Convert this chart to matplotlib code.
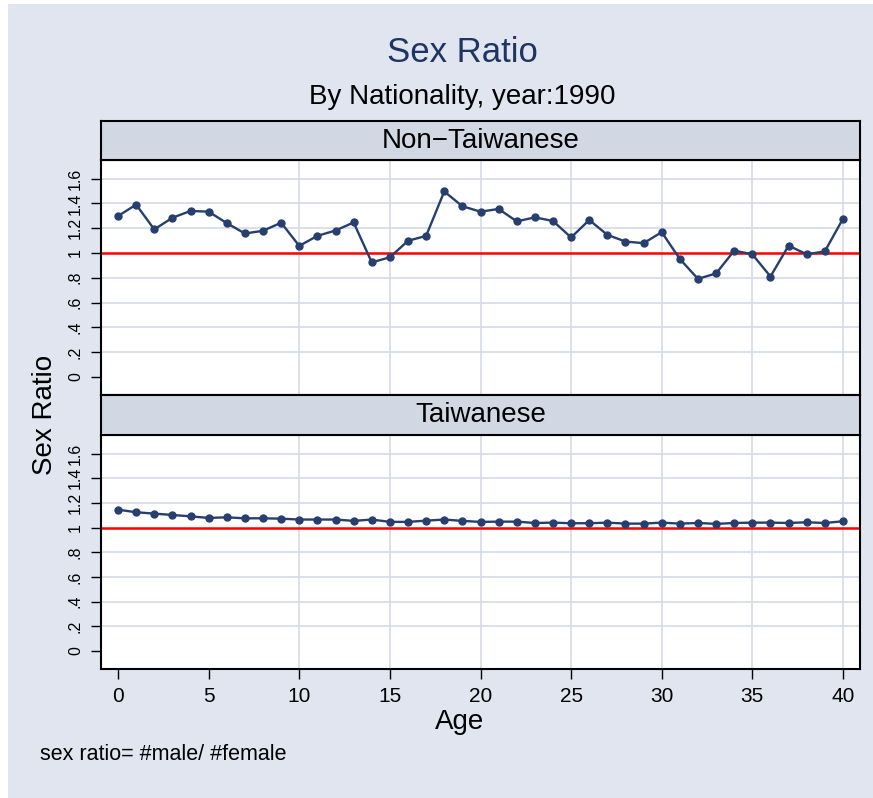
import numpy as np
import matplotlib
matplotlib.use("Agg")
import matplotlib.pyplot as plt
from matplotlib.patches import Rectangle

plt.rcParams['font.family'] = ['Liberation Sans', 'DejaVu Sans']

# data
age = list(range(41))
non_taiwanese = [1.298, 1.39, 1.19, 1.284, 1.339, 1.333, 1.241, 1.157, 1.179, 1.244,
                 1.057, 1.138, 1.181, 1.246, 0.924, 0.965, 1.098, 1.138, 1.496, 1.377,
                 1.333, 1.355, 1.255, 1.287, 1.258, 1.125, 1.266, 1.146, 1.092, 1.079,
                 1.168, 0.951, 0.791, 0.835, 1.019, 0.989, 0.81, 1.059, 0.989, 1.013,
                 1.276]
taiwanese = [1.145, 1.124, 1.113, 1.102, 1.091, 1.078, 1.083, 1.075, 1.075, 1.072,
             1.065, 1.065, 1.065, 1.054, 1.065, 1.046, 1.046, 1.056, 1.065, 1.054,
             1.046, 1.048, 1.048, 1.037, 1.04, 1.035, 1.035, 1.04, 1.032, 1.032,
             1.04, 1.032, 1.037, 1.03, 1.037, 1.04, 1.04, 1.037, 1.043, 1.037,
             1.051]
panels = ["Non\u2212Taiwanese", "Taiwanese"]
yticks = [0, 0.2, 0.4, 0.6, 0.8, 1, 1.2, 1.4, 1.6]
ytick_labels = ["0", ".2", ".4", ".6", ".8", "1", "1.2", "1.4", "1.6"]
xticks = [0, 5, 10, 15, 20, 25, 30, 35, 40]

W, H = 873, 798
bg = "#E0E5F0"
strip_col = "#D2D8E3"
navy = "#263F6E"
grid_col = "#D5DAE6"

fig = plt.figure(figsize=(W / 100, H / 100), dpi=100, facecolor="white")
fig.patches.append(Rectangle((8 / W, 0), 1 - 8 / W, 1 - 4 / H, transform=fig.transFigure,
                             facecolor=bg, edgecolor="none", zorder=-10))

def px(x0, y0, x1, y1):
    return [x0 / W, 1 - y1 / H, (x1 - x0) / W, (y1 - y0) / H]

plot_boxes = [px(101, 160, 860, 395), px(101, 435, 860, 669)]
strip_boxes = [px(101, 121, 860, 160), px(101, 395, 860, 435)]

for i, (series, name) in enumerate(zip([non_taiwanese, taiwanese], panels)):
    ax = fig.add_axes(plot_boxes[i])
    ax.set_facecolor("white")
    ax.set_xlim(-0.94, 40.94)
    ax.set_ylim(-0.146, 1.75)
    for g in [0.2, 0.4, 0.6, 0.8, 1.2, 1.4, 1.6]:
        ax.axhline(g, color=grid_col, lw=1.2, zorder=1)
    for g in [10, 15, 20, 25, 30, 35, 40]:
        ax.axvline(g, color=grid_col, lw=1.2, zorder=1)
    ax.axhline(1, color="red", lw=1.8, zorder=2)
    ax.plot(age, series, color=navy, lw=1.7, marker="o", markersize=5, zorder=3)
    ax.set_yticks(yticks)
    ax.set_yticklabels(ytick_labels, rotation=90, va="center", fontsize=11.5)
    ax.set_xticks(xticks)
    ax.tick_params(axis="both", direction="out", length=7, width=1, pad=6)
    ax.tick_params(axis="x", labelsize=15)
    for s in ax.spines.values():
        s.set_linewidth(1.5)
        s.set_color("black")
    if i == 0:
        ax.tick_params(axis="x", length=0, labelbottom=False)

    sax = fig.add_axes(strip_boxes[i])
    sax.set_facecolor(strip_col)
    sax.set_xticks([])
    sax.set_yticks([])
    for s in sax.spines.values():
        s.set_linewidth(1.5)
    sax.text(0.5, 0.5, name, ha="center", va="center", fontsize=20, transform=sax.transAxes)

fig.text(462 / W, 1 - 52 / H, "Sex Ratio", ha="center", va="center", fontsize=25, color="#1E3563")
fig.text(462 / W, 1 - 97 / H, "By Nationality, year:1990", ha="center", va="center", fontsize=20)
fig.text(45 / W, 1 - 415 / H, "Sex Ratio", ha="center", va="center", rotation=90, fontsize=20)
fig.text(460 / W, 1 - 722 / H, "Age", ha="center", va="center", fontsize=20)
fig.text(40 / W, 1 - 755 / H, "sex ratio= #male/ #female", ha="left", va="center", fontsize=15.5)

fig.savefig("out.png", dpi=100, facecolor=fig.get_facecolor())
